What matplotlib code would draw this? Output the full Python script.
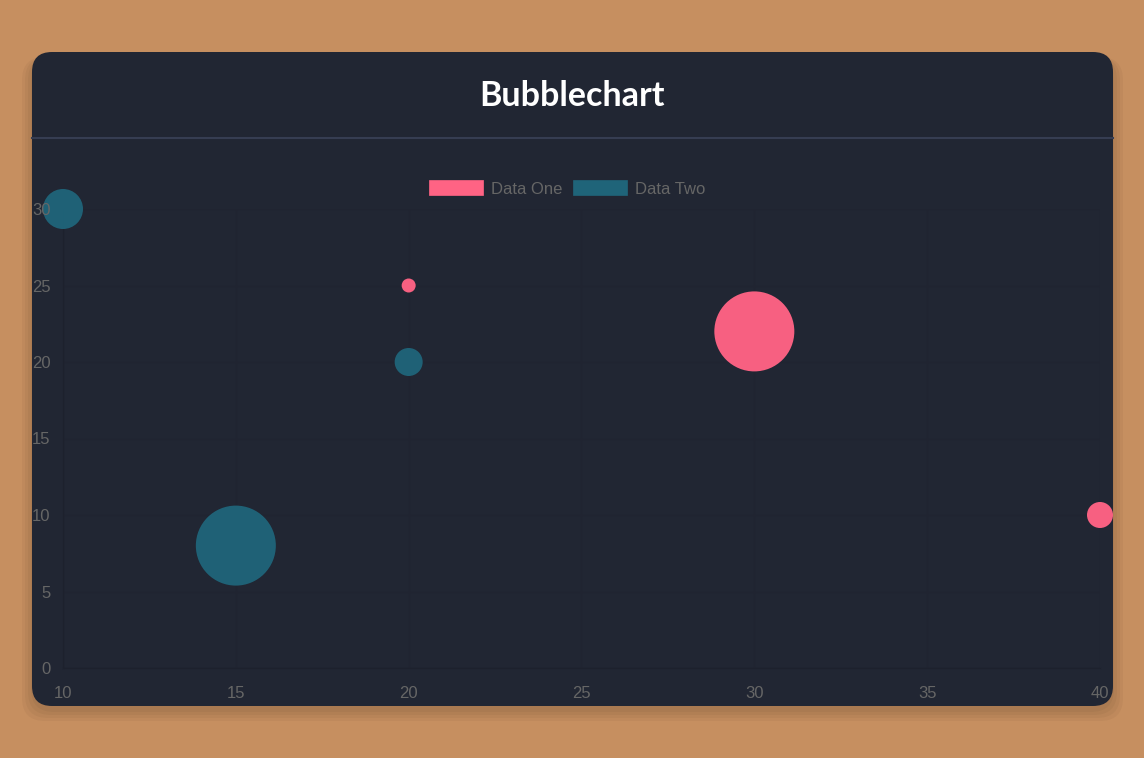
import matplotlib.pyplot as plt
from matplotlib.patches import FancyBboxPatch, Rectangle
from matplotlib.lines import Line2D

# data
series_names = ["Data One", "Data Two"]
one_x = [20, 30, 40]
one_y = [25, 22, 10]
one_r = [7, 40, 13]      # bubble radius in pixels
two_x = [10, 20, 15]
two_y = [30, 20, 8]
two_r = [20, 14, 40]
x_ticks = [10, 15, 20, 25, 30, 35, 40]
y_ticks = [0, 5, 10, 15, 20, 25, 30]

W, H = 1144, 758
bg = "#c68f60"
card_col = "#212633"
pink = "#ff6384"
teal = "#1f6479"
label_col = "#666666"
grid_col = "#202431"

fig = plt.figure(figsize=(W / 100, H / 100), dpi=100, facecolor=bg)

def fx(px):
    return px / W

def fy(py):
    return 1 - py / H

# soft shadow under the card
for i in range(4):
    d = 1 + i * 3
    sh = FancyBboxPatch((fx(32 - d), fy(706 + d + 5)), fx(1081 + 2 * d), (654 + d) / H,
                        boxstyle="round,pad=0,rounding_size=0.02",
                        transform=fig.transFigure, facecolor="#000000", alpha=0.035,
                        edgecolor="none", mutation_aspect=W / H, zorder=-20)
    fig.patches.append(sh)

card = FancyBboxPatch((fx(32), fy(706)), fx(1081), 654 / H,
                      boxstyle="round,pad=0,rounding_size=0.0175",
                      transform=fig.transFigure, facecolor=card_col,
                      edgecolor="none", mutation_aspect=W / H, zorder=-10)
fig.patches.append(card)

fig.text(fx(572), fy(96), "Bubblechart", color="white", fontsize=24.5,
         fontweight="bold", family="Lato", ha="center", va="center")
fig.add_artist(Line2D([fx(32), fx(1113)], [fy(137.5), fy(137.5)],
                      transform=fig.transFigure, color="#363d52", lw=1.5))

# legend
colors = [pink, teal]
leg_x = [429, 573]
for name, c, lx in zip(series_names, colors, leg_x):
    fig.patches.append(Rectangle((fx(lx), fy(195)), fx(54), 15 / H,
                                 transform=fig.transFigure, facecolor=c,
                                 edgecolor=c, lw=0.5))
    fig.text(fx(lx + 62), fy(189.5), name, color=label_col, fontsize=12,
             family="Liberation Sans", ha="left", va="center")

ax = fig.add_axes([fx(63), fy(668), fx(1037), 459 / H])
ax.set_facecolor("none")
ax.set_xlim(10, 40)
ax.set_ylim(0, 30)

# faint grid, kept under the bubbles
for xv in x_ticks:
    ax.axvline(xv, color=grid_col, lw=0.8, zorder=0.5)
for yv in y_ticks:
    ax.axhline(yv, color=grid_col, lw=0.8, zorder=0.5)


def sizes(r):
    return [(2 * v * 0.72) ** 2 for v in r]


s1 = ax.scatter(one_x, one_y, s=sizes(one_r), color=pink, edgecolors="none",
                alpha=0.97, zorder=1)
s2 = ax.scatter(two_x, two_y, s=sizes(two_r), color=teal, edgecolors="none",
                alpha=0.97, zorder=1)
for s in (s1, s2):
    s.set_clip_box(None)
    s.set_clip_path(card)

ax.set_xticks(x_ticks)
ax.set_yticks(y_ticks)
ax.tick_params(colors=label_col, labelsize=12, length=0)
ax.tick_params(axis="x", pad=13)
ax.tick_params(axis="y", pad=9)
for lab in ax.get_xticklabels() + ax.get_yticklabels():
    lab.set_family("Liberation Sans")
for sp in ["top", "right"]:
    ax.spines[sp].set_visible(False)
for sp in ["left", "bottom"]:
    ax.spines[sp].set_color("#1d212d")
    ax.spines[sp].set_zorder(0.6)
ax.set_axisbelow(False)

fig.savefig("out.png", dpi=100, facecolor=bg)
